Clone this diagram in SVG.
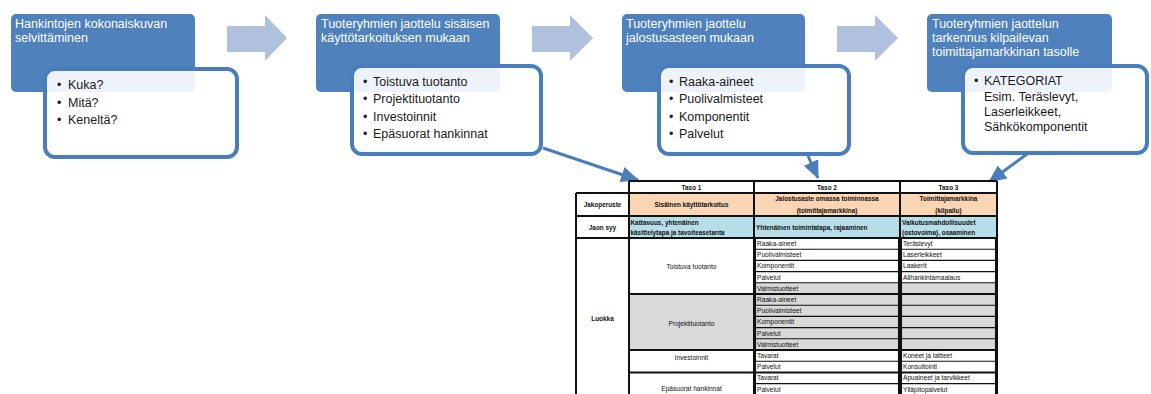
<svg xmlns="http://www.w3.org/2000/svg" width="1151" height="394" viewBox="0 0 1151 394">
  <defs>
    <style>
      .title { fill: #4f81bd; }
      .card { fill: #ffffff; fill-opacity: 0.9; stroke: #4a7ebb; stroke-width: 4; }
      .chev { fill: #b0c1de; }
      .ttl { font-family: "Liberation Sans", Arial, sans-serif; font-size: 12.5px; fill: #ffffff; }
      .bul { font-family: "Liberation Sans", Arial, sans-serif; font-size: 12.5px; fill: #1a1a1a; }
      .conn { fill: none; stroke: #4a7ebb; stroke-width: 3; }
      .tb { font-family: "Liberation Sans", Arial, sans-serif; font-size: 6.6px; fill: #111; }
      .tbb { font-family: "Liberation Sans", Arial, sans-serif; font-size: 6.4px; font-weight: bold; fill: #111; }
      .thin { fill: none; stroke: #111; stroke-width: 1.1; }
      .thick { fill: none; stroke: #111; stroke-width: 2; }
      .gray { fill: #d9d9d9; }
    </style>
    <marker id="head" markerUnits="userSpaceOnUse" markerWidth="18" markerHeight="16" refX="17" refY="8" orient="auto">
      <path d="M0,0 L18,8 L0,16 z" fill="#4a7ebb"/>
    </marker>
  </defs>

  <!-- process chevrons -->
  <g id="chevrons">
    <polygon class="chev" points="227,26 265,26 265,15 287,38 265,61 265,52 227,52"/>
    <polygon class="chev" points="532,26 570,26 570,15 593,38 570,61 570,52 532,52"/>
    <polygon class="chev" points="837,26 875,26 875,15 898,38 875,61 875,52 837,52"/>
  </g>

  <!-- stage 1 -->
  <g id="stage1">
    <rect class="title" x="11" y="14" width="184" height="78" rx="5"/>
    <text class="ttl" x="15" y="28">Hankintojen kokonaiskuvan</text>
    <text class="ttl" x="15" y="42">selvittäminen</text>
    <rect class="card" x="45" y="69" width="192" height="88" rx="10"/>
    <text class="bul" x="57" y="89">•</text><text class="bul" x="68" y="89">Kuka?</text>
    <text class="bul" x="57" y="107">•</text><text class="bul" x="68" y="107">Mitä?</text>
    <text class="bul" x="57" y="124">•</text><text class="bul" x="68" y="124">Keneltä?</text>
  </g>

  <!-- stage 2 -->
  <g id="stage2">
    <rect class="title" x="316" y="14" width="184" height="78" rx="5"/>
    <text class="ttl" x="321" y="28">Tuoteryhmien jaottelu sisäisen</text>
    <text class="ttl" x="321" y="42">käyttötarkoituksen mukaan</text>
    <rect class="card" x="352" y="66" width="189" height="88" rx="10"/>
    <text class="bul" x="363" y="86">•</text><text class="bul" x="373" y="86">Toistuva tuotanto</text>
    <text class="bul" x="363" y="103">•</text><text class="bul" x="373" y="103">Projektituotanto</text>
    <text class="bul" x="363" y="121">•</text><text class="bul" x="373" y="121">Investoinnit</text>
    <text class="bul" x="363" y="138">•</text><text class="bul" x="373" y="138">Epäsuorat hankinnat</text>
  </g>

  <!-- stage 3 -->
  <g id="stage3">
    <rect class="title" x="622" y="14" width="183" height="78" rx="5"/>
    <text class="ttl" x="626" y="28">Tuoteryhmien jaottelu</text>
    <text class="ttl" x="626" y="42">jalostusasteen mukaan</text>
    <rect class="card" x="659" y="66" width="190" height="88" rx="10"/>
    <text class="bul" x="669" y="86">•</text><text class="bul" x="679" y="86">Raaka-aineet</text>
    <text class="bul" x="669" y="103">•</text><text class="bul" x="679" y="103">Puolivalmisteet</text>
    <text class="bul" x="669" y="121">•</text><text class="bul" x="679" y="121">Komponentit</text>
    <text class="bul" x="669" y="138">•</text><text class="bul" x="679" y="138">Palvelut</text>
  </g>

  <!-- stage 4 -->
  <g id="stage4">
    <rect class="title" x="927" y="14" width="185" height="78" rx="5"/>
    <text class="ttl" x="932" y="28">Tuoteryhmien jaottelun</text>
    <text class="ttl" x="932" y="42">tarkennus kilpailevan</text>
    <text class="ttl" x="932" y="56">toimittajamarkkinan tasolle</text>
    <rect class="card" x="963" y="66" width="184" height="87" rx="10"/>
    <text class="bul" x="974" y="85">•</text><text class="bul" x="984" y="85">KATEGORIAT</text>
    <text class="bul" x="984" y="101">Esim. Teräslevyt,</text>
    <text class="bul" x="984" y="116">Laserleikkeet,</text>
    <text class="bul" x="984" y="131">Sähkökomponentit</text>
  </g>

  <!-- connectors -->
  <g id="connectors">
    <path class="conn" d="M543,148 L638,180" marker-end="url(#head)"/>
    <path class="conn" d="M808,156 L818,178" marker-end="url(#head)"/>
    <path class="conn" d="M1027,154 L989,182" marker-end="url(#head)"/>
  </g>

  <!-- category table -->
  <g id="table">
    <!-- fills -->
    <rect x="629" y="181" width="368" height="12" fill="#ffffff"/>
    <rect x="576" y="193" width="53" height="45" fill="#ffffff"/>
    <rect x="629" y="193" width="368" height="23" fill="#fcd5b4"/>
    <rect x="629" y="216" width="368" height="22" fill="#b7dee8"/>
    <rect x="576" y="238" width="421" height="160" fill="#ffffff"/>
    <rect class="gray" x="629" y="294" width="125" height="56"/>
    <rect class="gray" x="754" y="282.8" width="243" height="67.2"/>

    <!-- thin row lines in the Taso 2 / Taso 3 columns -->
    <g class="thin">
      <line x1="754" y1="249.2" x2="997" y2="249.2"/>
      <line x1="754" y1="260.4" x2="997" y2="260.4"/>
      <line x1="754" y1="271.6" x2="997" y2="271.6"/>
      <line x1="754" y1="282.8" x2="997" y2="282.8"/>
      <line x1="754" y1="305.2" x2="997" y2="305.2"/>
      <line x1="754" y1="316.4" x2="997" y2="316.4"/>
      <line x1="754" y1="327.6" x2="997" y2="327.6"/>
      <line x1="754" y1="338.8" x2="997" y2="338.8"/>
      <line x1="754" y1="361.2" x2="997" y2="361.2"/>
      <line x1="754" y1="383.6" x2="997" y2="383.6"/>
      <line x1="755.5" y1="238" x2="755.5" y2="398"/>
      <line x1="898.5" y1="238" x2="898.5" y2="398"/>
      <line x1="901.5" y1="238" x2="901.5" y2="398"/>
      <line x1="995.5" y1="238" x2="995.5" y2="398"/>
    </g>

    <!-- main grid -->
    <g class="thick">
      <line x1="629" y1="181" x2="997" y2="181"/>
      <line x1="576" y1="193" x2="997" y2="193"/>
      <line x1="576" y1="216" x2="997" y2="216"/>
      <line x1="576" y1="238" x2="997" y2="238"/>
      <line x1="629" y1="294" x2="997" y2="294"/>
      <line x1="629" y1="350" x2="997" y2="350"/>
      <line x1="629" y1="372.4" x2="997" y2="372.4"/>
      <line x1="576" y1="193" x2="576" y2="398"/>
      <line x1="629" y1="181" x2="629" y2="398"/>
      <line x1="754" y1="181" x2="754" y2="398"/>
      <line x1="900" y1="181" x2="900" y2="398"/>
      <line x1="997" y1="181" x2="997" y2="398"/>
    </g>

    <!-- header texts -->
    <g class="tbb" text-anchor="middle">
      <text x="691.5" y="189.5">Taso 1</text>
      <text x="827" y="189.5">Taso 2</text>
      <text x="948.5" y="189.5">Taso 3</text>
      <text x="602.5" y="207">Jakoperuste</text>
      <text x="691.5" y="207">Sisäinen käyttötarkoitus</text>
      <text x="827" y="201">Jalostusaste omassa toiminnassa</text>
      <text x="827" y="212.5">(toimittajamarkkina)</text>
      <text x="948.5" y="201">Toimittajamarkkina</text>
      <text x="948.5" y="212.5">(kilpailu)</text>
      <text x="602.5" y="229.5">Jaon  syy</text>
      <text x="602.5" y="320.5">Luokka</text>
    </g>
    <g class="tbb">
      <text x="630.5" y="224.5">Kattavuus, yhtenäinen</text>
      <text x="630.5" y="234.5">käsittelytapa ja  tavoiteasetanta</text>
      <text x="756" y="229.5">Yhtenäinen toimintatapa, rajaaminen</text>
      <text x="902" y="224.5">Vaikutusmahdollisuudet</text>
      <text x="902" y="234.5">(ostovoima), osaaminen</text>
    </g>

    <!-- Taso 1 groups -->
    <g class="tb" text-anchor="middle">
      <text x="691.5" y="269">Toistuva tuotanto</text>
      <text x="691.5" y="325.5">Projektituotanto</text>
      <text x="691.5" y="360">Investoinnit</text>
      <text x="691.5" y="390.5">Epäsuorat hankinnat</text>
    </g>

    <!-- Taso 2 cells -->
    <g class="tb">
      <text x="757" y="246">Raaka-aineet</text>
      <text x="757" y="257.2">Puolivalmisteet</text>
      <text x="757" y="268.4">Komponentit</text>
      <text x="757" y="279.6">Palvelut</text>
      <text x="757" y="290.8">Valmistuotteet</text>
      <text x="757" y="302">Raaka-aineet</text>
      <text x="757" y="313.2">Puolivalmisteet</text>
      <text x="757" y="324.4">Komponentit</text>
      <text x="757" y="335.6">Palvelut</text>
      <text x="757" y="346.8">Valmistuotteet</text>
      <text x="757" y="358">Tavarat</text>
      <text x="757" y="369.2">Palvelut</text>
      <text x="757" y="380.4">Tavarat</text>
      <text x="757" y="391.6">Palvelut</text>
    </g>

    <!-- Taso 3 cells -->
    <g class="tb">
      <text x="903" y="246">Teräslevyt</text>
      <text x="903" y="257.2">Laserleikkeet</text>
      <text x="903" y="268.4">Laakerit</text>
      <text x="903" y="279.6">Alihankintamaalaus</text>
      <text x="903" y="358">Koneet ja laitteet</text>
      <text x="903" y="369.2">Konsultointi</text>
      <text x="903" y="380.4">Apuaineet ja tarvikkeet</text>
      <text x="903" y="391.6">Ylläpitopalvelut</text>
    </g>
  </g>
</svg>
